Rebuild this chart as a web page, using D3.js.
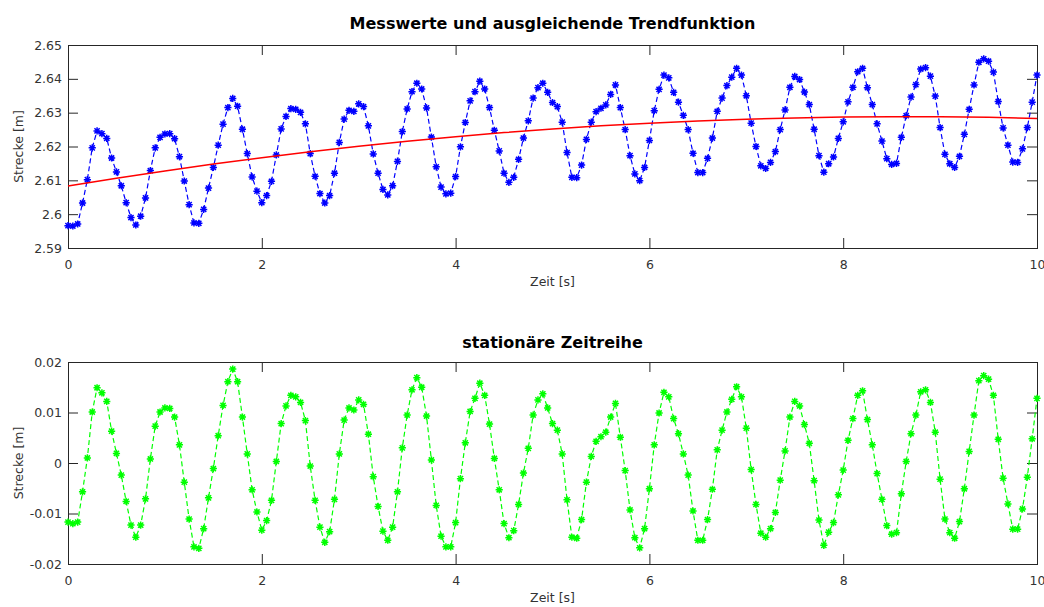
<!DOCTYPE html>
<html>
<head>
<meta charset="utf-8">
<script src="https://cdn.jsdelivr.net/npm/d3@7"></script>
<style>
  body { margin: 0; background: #fff; }
  svg { display: block; }
  text { font-family: "DejaVu Sans", sans-serif; }
</style>
</head>
<body>
<svg id="fig" width="1044" height="607"></svg>
<script>
// Abtastung: 201 Messpunkte von 0 bis 10 s
const abtastintervall = 0.05;

// Messwerte der Strecke [m]
const messwerte = [
  2.5966,2.5965,2.5971,2.6033,2.6102,2.6196,2.6246,2.6238,2.6224,2.6166,
  2.6125,2.6084,2.6034,2.5990,2.5968,2.5994,2.6048,2.6129,2.6196,2.6227,
  2.6237,2.6238,2.6223,2.6170,2.6098,2.6028,2.5974,2.5973,2.6014,2.6077,
  2.6138,2.6204,2.6266,2.6315,2.6342,2.6319,2.6251,2.6179,2.6110,2.6068,
  2.6034,2.6055,2.6097,2.6175,2.6252,2.6289,2.6312,2.6310,2.6301,2.6267,
  2.6179,2.6112,2.6061,2.6033,2.6055,2.6121,2.6212,2.6281,2.6307,2.6304,
  2.6326,2.6318,2.6261,2.6178,2.6121,2.6073,2.6057,2.6084,2.6156,2.6244,
  2.6311,2.6362,2.6387,2.6370,2.6314,2.6228,2.6140,2.6080,2.6060,2.6062,
  2.6111,2.6199,2.6271,2.6335,2.6362,2.6393,2.6370,2.6315,2.6248,2.6187,
  2.6121,2.6094,2.6109,2.6162,2.6225,2.6276,2.6343,2.6374,2.6387,2.6360,
  2.6330,2.6318,2.6272,2.6182,2.6109,2.6108,2.6145,2.6221,2.6272,2.6303,
  2.6313,2.6323,2.6354,2.6382,2.6315,2.6250,2.6173,2.6119,2.6099,2.6138,
  2.6218,2.6306,2.6369,2.6411,2.6403,2.6360,2.6331,2.6292,2.6250,2.6180,
  2.6123,2.6123,2.6165,2.6225,2.6304,2.6343,2.6380,2.6405,2.6431,2.6411,
  2.6350,2.6269,2.6200,2.6143,2.6135,2.6153,2.6185,2.6250,2.6308,2.6375,
  2.6407,2.6398,2.6361,2.6324,2.6251,2.6173,2.6124,2.6149,2.6169,2.6224,
  2.6273,2.6332,2.6375,2.6421,2.6431,2.6374,2.6324,2.6267,2.6216,2.6164,
  2.6147,2.6150,2.6227,2.6291,2.6346,2.6383,2.6429,2.6433,2.6408,2.6349,
  2.6256,2.6177,2.6149,2.6138,2.6171,2.6236,2.6310,2.6382,2.6449,2.6459,
  2.6452,2.6420,2.6333,2.6255,2.6204,2.6154,2.6153,2.6193,2.6256,2.6331,
  2.6411
];

// Stationaere Zeitreihe (Messwerte minus Trend) [m]
const residuen = [
  -0.0117,-0.0120,-0.0117,-0.0057,0.0010,0.0101,0.0149,0.0139,0.0122,0.0063,
  0.0019,-0.0024,-0.0076,-0.0123,-0.0147,-0.0123,-0.0071,0.0008,0.0073,0.0101,
  0.0109,0.0108,0.0091,0.0036,-0.0038,-0.0111,-0.0166,-0.0169,-0.0130,-0.0069,
  -0.0011,0.0054,0.0114,0.0161,0.0186,0.0161,0.0091,0.0018,-0.0053,-0.0097,
  -0.0133,-0.0114,-0.0074,0.0003,0.0078,0.0113,0.0134,0.0131,0.0120,0.0084,
  -0.0006,-0.0074,-0.0127,-0.0157,-0.0136,-0.0072,0.0018,0.0085,0.0109,0.0105,
  0.0125,0.0116,0.0057,-0.0027,-0.0086,-0.0135,-0.0153,-0.0127,-0.0057,0.0030,
  0.0095,0.0145,0.0169,0.0150,0.0093,0.0006,-0.0084,-0.0145,-0.0166,-0.0166,
  -0.0118,-0.0031,0.0040,0.0102,0.0128,0.0158,0.0134,0.0077,0.0009,-0.0053,
  -0.0120,-0.0148,-0.0134,-0.0082,-0.0020,0.0029,0.0095,0.0125,0.0137,0.0109,
  0.0078,0.0065,0.0018,-0.0073,-0.0147,-0.0149,-0.0112,-0.0038,0.0013,0.0043,
  0.0052,0.0061,0.0091,0.0118,0.0051,-0.0015,-0.0093,-0.0148,-0.0168,-0.0130,
  -0.0051,0.0036,0.0099,0.0140,0.0131,0.0088,0.0058,0.0018,-0.0024,-0.0095,
  -0.0153,-0.0153,-0.0112,-0.0052,0.0026,0.0065,0.0101,0.0126,0.0151,0.0131,
  0.0069,-0.0013,-0.0082,-0.0139,-0.0147,-0.0130,-0.0098,-0.0034,0.0024,0.0091,
  0.0122,0.0113,0.0076,0.0039,-0.0035,-0.0113,-0.0163,-0.0137,-0.0118,-0.0063,
  -0.0014,0.0045,0.0088,0.0134,0.0143,0.0086,0.0036,-0.0021,-0.0072,-0.0124,
  -0.0141,-0.0138,-0.0061,0.0003,0.0058,0.0095,0.0141,0.0145,0.0120,0.0061,
  -0.0032,-0.0111,-0.0138,-0.0149,-0.0116,-0.0051,0.0023,0.0095,0.0163,0.0173,
  0.0166,0.0134,0.0047,-0.0030,-0.0081,-0.0131,-0.0131,-0.0091,-0.0028,0.0048,
  0.0128
];

// Ausgleichende Trendfunktion, Stuetzstellen alle 0.5 s
const trendZeit = [0,0.5,1,1.5,2,2.5,3,3.5,4,4.5,5,5.5,6,6.5,7,7.5,8,8.5,9,9.5,10];
const trendWerte = [
  2.60830,2.61061,2.61278,2.61481,2.61670,2.61846,2.62008,2.62156,2.62290,2.62411,
  2.62518,2.62611,2.62690,2.62756,2.62808,2.62846,2.62870,2.62881,2.62878,2.62861,
  2.62830
];

// Achsenbeschriftungen
const zeitTicks = [0, 2, 4, 6, 8, 10];
const streckeTicksOben = [2.59, 2.6, 2.61, 2.62, 2.63, 2.64, 2.65];
const streckeTicksUnten = [-0.02, -0.01, 0, 0.01, 0.02];

const zeit = messwerte.map((_, i) => +(i * abtastintervall).toFixed(2));

const svg = d3.select("#fig");
const axisColor = "#262626";
const tickLen = 10;
const xLeft = 68, xRight = 1037;

// Asterisk marker (plus + cross)
const stern = "M-3.6,0H3.6M0,-3.6V3.6M-2.6,-2.6L2.6,2.6M-2.6,2.6L2.6,-2.6";

function zeichneAchsen(cfg) {
  const g = svg.append("g");
  const x = d3.scaleLinear().domain([0, 10]).range([xLeft, xRight]);
  const y = d3.scaleLinear().domain(cfg.domain).range([cfg.bottom, cfg.top]);
  const fmt = d => String(d);
  const leer = () => "";

  const ax = [
    g.append("g").attr("transform", `translate(0,${cfg.bottom})`)
      .call(d3.axisBottom(x).tickValues(zeitTicks).tickSize(-tickLen).tickSizeOuter(0).tickPadding(12).tickFormat(fmt)),
    g.append("g").attr("transform", `translate(0,${cfg.top})`)
      .call(d3.axisTop(x).tickValues(zeitTicks).tickSize(-tickLen).tickSizeOuter(0).tickFormat(leer)),
    g.append("g").attr("transform", `translate(${xLeft},0)`)
      .call(d3.axisLeft(y).tickValues(cfg.ticks).tickSize(-tickLen).tickSizeOuter(0).tickPadding(6).tickFormat(fmt)),
    g.append("g").attr("transform", `translate(${xRight},0)`)
      .call(d3.axisRight(y).tickValues(cfg.ticks).tickSize(-tickLen).tickSizeOuter(0).tickFormat(leer))
  ];
  ax.forEach(a => {
    a.select(".domain").remove();
    a.selectAll(".tick line").attr("stroke", axisColor);
    a.selectAll(".tick text").attr("fill", "#333").style("font-size", "12.5px")
      .style("font-family", "'DejaVu Sans', sans-serif");
  });

  // Achsenrahmen
  g.append("rect")
    .attr("x", xLeft + 0.5).attr("y", cfg.top + 0.5)
    .attr("width", xRight - xLeft).attr("height", cfg.bottom - cfg.top)
    .attr("fill", "none").attr("stroke", axisColor).attr("stroke-width", 1);

  // Titel
  g.append("text")
    .attr("x", (xLeft + xRight) / 2).attr("y", cfg.titleY)
    .attr("text-anchor", "middle").style("font-size", "16px").style("font-weight", "bold")
    .attr("fill", "#000").text(cfg.title);

  // x-Achsentitel
  g.append("text")
    .attr("x", (xLeft + xRight) / 2).attr("y", cfg.bottom + 38)
    .attr("text-anchor", "middle").style("font-size", "12.5px")
    .attr("fill", "#333").text("Zeit [s]");

  // y-Achsentitel
  g.append("text")
    .attr("transform", `translate(23,${(cfg.top + cfg.bottom) / 2}) rotate(-90)`)
    .attr("text-anchor", "middle").style("font-size", "12.5px")
    .attr("fill", "#333").text("Strecke [m]");

  return { g, x, y };
}

function zeichneReihe(p, werte, farbe) {
  const linie = d3.line().x((d, i) => p.x(zeit[i])).y(d => p.y(d));
  p.g.append("path")
    .datum(werte)
    .attr("d", linie)
    .attr("fill", "none").attr("stroke", farbe).attr("stroke-width", 1.2)
    .attr("stroke-dasharray", "5,3");
  p.g.append("g").selectAll("path")
    .data(werte)
    .join("path")
    .attr("transform", (d, i) => `translate(${p.x(zeit[i])},${p.y(d)})`)
    .attr("d", stern)
    .attr("fill", "none").attr("stroke", farbe).attr("stroke-width", 1.5);
}

// Oberes Diagramm: Messwerte und Trend
const oben = zeichneAchsen({
  top: 45, bottom: 248, domain: [2.59, 2.65], ticks: streckeTicksOben,
  title: "Messwerte und ausgleichende Trendfunktion", titleY: 29
});
zeichneReihe(oben, messwerte, "#0000ff");
oben.g.append("path")
  .datum(trendWerte)
  .attr("d", d3.line().curve(d3.curveNatural).x((d, i) => oben.x(trendZeit[i])).y(d => oben.y(d)))
  .attr("fill", "none").attr("stroke", "#ff0000").attr("stroke-width", 1.5);

// Unteres Diagramm: stationaere Zeitreihe
const unten = zeichneAchsen({
  top: 362, bottom: 564, domain: [-0.02, 0.02], ticks: streckeTicksUnten,
  title: "stationäre Zeitreihe", titleY: 348
});
zeichneReihe(unten, residuen, "#00ff00");
</script>
</body>
</html>
